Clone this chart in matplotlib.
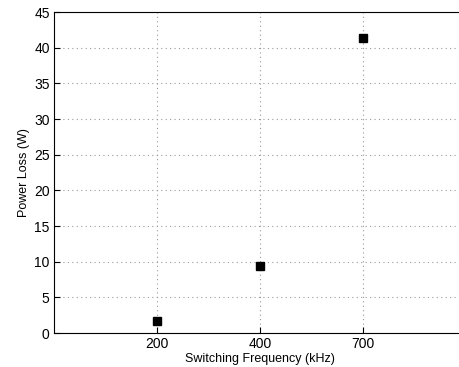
import numpy as np
import matplotlib.pyplot as plt

plt.rcParams['font.family'] = ['Liberation Sans', 'DejaVu Sans']

# Daten
freq_labels = ['200', '400', '700']
power_loss = [1.75, 9.4, 41.3]
positions = [1, 2, 3]

fig = plt.figure(figsize=(4.6, 3.67), dpi=100)
ax = fig.add_axes([0.117, 0.0926, 0.896, 0.8747])

ax.plot(positions, power_loss, 's', color='black', markersize=6)

ax.set_xlim(0, 4)
ax.set_ylim(0, 45)
ax.set_xticks(positions)
ax.set_xticklabels(freq_labels)
ax.set_yticks(np.arange(0, 46, 5))
ax.tick_params(direction='in', labelsize=10, length=4, pad=3)
ax.grid(True, linestyle=(0, (1, 3)), color='#999999', linewidth=0.8)
ax.spines['right'].set_visible(False)

ax.set_xlabel('Switching Frequency (kHz)', fontsize=9, labelpad=1)
ax.set_ylabel('Power Loss (W)', fontsize=9, labelpad=3)

fig.savefig('out.png', dpi=100)
